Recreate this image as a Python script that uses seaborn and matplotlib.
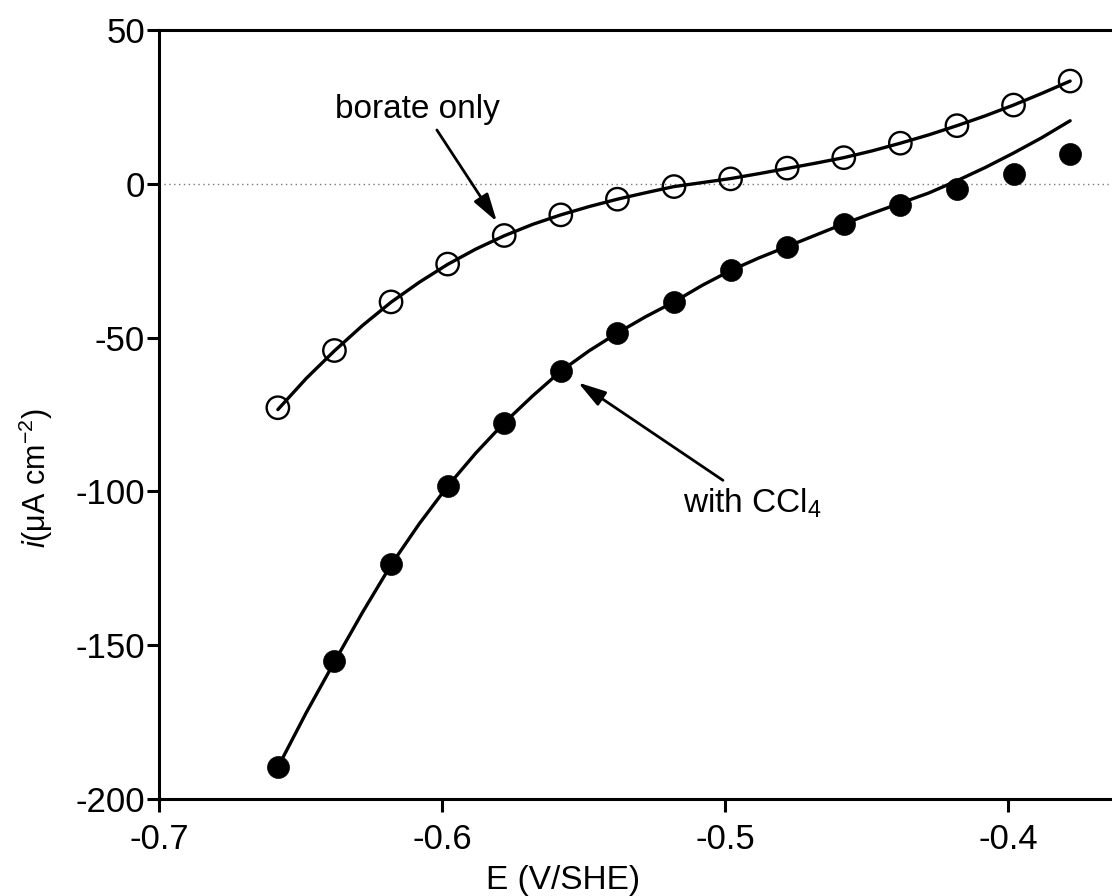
import matplotlib
matplotlib.use("Agg")
import matplotlib.pyplot as plt
import seaborn as sns
import pandas as pd
from matplotlib import font_manager

# ---- data ----
E_points = [-0.658, -0.638, -0.618, -0.598, -0.578, -0.558, -0.538, -0.518,
            -0.498, -0.478, -0.458, -0.438, -0.418, -0.398, -0.378]
i_borate = [-72.8, -54.2, -38.4, -26.1, -16.8, -10.1, -5.0, -0.9,
            1.6, 5.1, 8.5, 13.2, 18.9, 25.6, 33.4]
i_ccl4 = [-189.7, -155.3, -123.7, -98.3, -77.7, -60.9, -48.5, -38.4,
          -27.9, -20.4, -13.0, -6.8, -1.7, 3.2, 9.6]

E_curve = [-0.658, -0.648, -0.638, -0.628, -0.618, -0.608, -0.598, -0.588,
           -0.578, -0.568, -0.558, -0.548, -0.538, -0.528, -0.518, -0.508,
           -0.498, -0.488, -0.478, -0.468, -0.458, -0.448, -0.438, -0.428,
           -0.418, -0.408, -0.398, -0.388, -0.378]
fit_borate = [-73.4, -63.3, -54.3, -46.0, -38.5, -32.0, -26.2, -21.2,
              -16.9, -13.2, -10.1, -7.4, -5.0, -2.9, -0.9, 0.4,
              1.7, 3.3, 5.0, 6.7, 8.5, 10.7, 13.2, 15.9,
              18.9, 22.1, 25.6, 29.4, 33.4]
fit_ccl4 = [-189.7, -172.0, -155.4, -139.2, -123.9, -110.5, -98.3, -87.5,
            -77.7, -69.0, -60.9, -54.3, -48.5, -43.2, -38.4, -33.0,
            -28.2, -24.1, -20.4, -16.7, -13.0, -9.6, -6.3, -3.0,
            1.0, 5.3, 10.0, 15.0, 20.5]

x_ticks = [-0.7, -0.6, -0.5, -0.4]
x_tick_labels = ["-0.7", "-0.6", "-0.5", "-0.4"]
y_ticks = [-200, -150, -100, -50, 0, 50]
y_tick_labels = ["-200", "-150", "-100", "-50", "0", "50"]

df_pts = pd.DataFrame({"E": E_points, "borate": i_borate, "ccl4": i_ccl4})
df_fit = pd.DataFrame({"E": E_curve, "borate": fit_borate, "ccl4": fit_ccl4})

# ---- style ----
sns.set_style("ticks")
avail = {f.name for f in font_manager.fontManager.ttflist}
fam = "Liberation Sans Narrow" if "Liberation Sans Narrow" in avail else "Liberation Sans"
plt.rcParams["font.family"] = [fam, "DejaVu Sans"]
plt.rcParams["mathtext.fontset"] = "custom"
plt.rcParams["mathtext.rm"] = fam
plt.rcParams["mathtext.it"] = fam + ":italic"
plt.rcParams["text.color"] = "black"
plt.rcParams["axes.labelcolor"] = "black"

fig = plt.figure(figsize=(11.12, 8.96), dpi=100)
ax = fig.add_axes([0.143, 0.1083, 0.857, 0.8582])

ax.axhline(0, color="#777777", lw=1.0, ls=(0, (1, 2.5)), zorder=1)

sns.lineplot(data=df_fit, x="E", y="borate", ax=ax, color="black", lw=2.4, zorder=2)
sns.lineplot(data=df_fit, x="E", y="ccl4", ax=ax, color="black", lw=2.4, zorder=2)
sns.scatterplot(data=df_pts, x="E", y="borate", ax=ax, s=260, marker="o",
                facecolors="none", edgecolor="black", linewidth=1.7, zorder=3)
sns.scatterplot(data=df_pts, x="E", y="ccl4", ax=ax, s=250, marker="o",
                color="black", edgecolor="black", linewidth=0.5, zorder=3)

ax.set_xlim(-0.7, -0.3632)
ax.set_ylim(-200, 50)
ax.set_xticks(x_ticks)
ax.set_xticklabels(x_tick_labels)
ax.set_yticks(y_ticks)
ax.set_yticklabels(y_tick_labels)

for s in ["left", "bottom", "top"]:
    ax.spines[s].set_linewidth(2.2)
    ax.spines[s].set_color("black")
ax.spines["right"].set_visible(False)

ax.tick_params(axis="both", which="major", labelsize=25, width=2.2, length=9,
               color="black", labelcolor="black")
ax.tick_params(axis="y", pad=1)
ax.tick_params(axis="x", pad=8)

ax.set_xlabel("E (V/SHE)", fontsize=24)
ax.set_ylabel(r"$\mathit{i}$(μA cm$^{-2}$)", fontsize=22)
ax.xaxis.set_label_coords(0.424, -0.086)
ax.yaxis.set_label_coords(-0.109, 0.417)

arrow_style = "-|>,head_length=0.85,head_width=0.25"
ax.text(-0.6085, 21.4, "borate only", fontsize=24, ha="center", va="baseline")
ax.annotate("", xy=(-0.5806, -12.3), xytext=(-0.6018, 17.5),
            arrowprops=dict(arrowstyle=arrow_style, color="black", lw=2.0,
                            mutation_scale=20, shrinkA=0, shrinkB=0))
ax.text(-0.5148, -106.8, "with CCl$_4$", fontsize=24, ha="left", va="baseline")
ax.annotate("", xy=(-0.5519, -64.6), xytext=(-0.5007, -96.4),
            arrowprops=dict(arrowstyle=arrow_style, color="black", lw=2.0,
                            mutation_scale=20, shrinkA=0, shrinkB=0))

fig.savefig("out.png", dpi=100)
